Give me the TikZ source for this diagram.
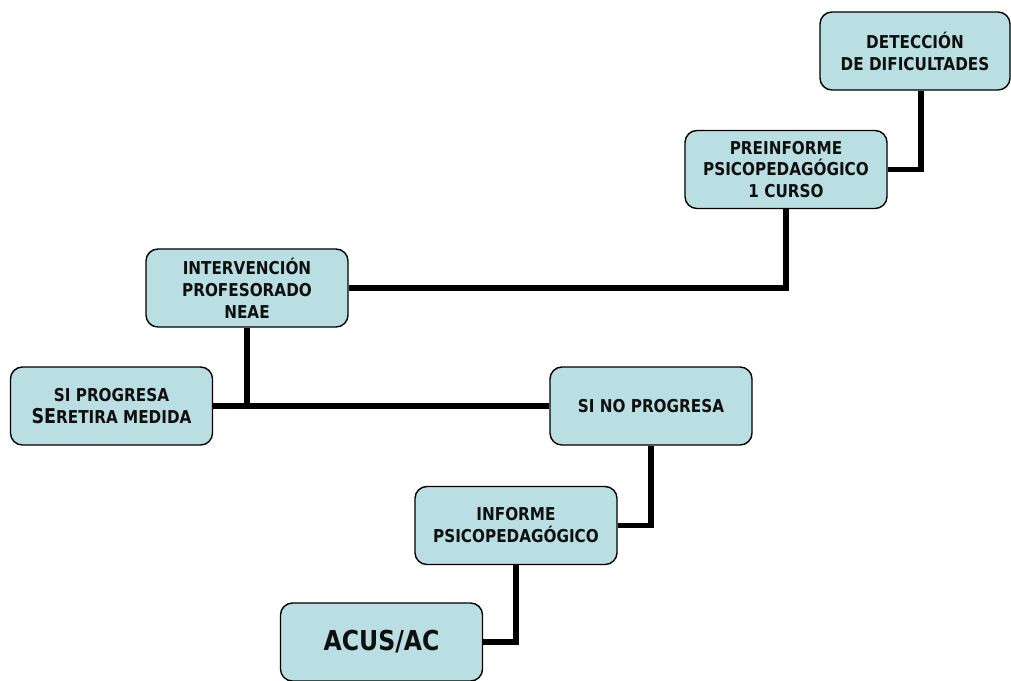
\documentclass[tikz,border=0pt]{standalone}
\usepackage{fontspec}
\setmainfont{DejaVu Sans}[FakeStretch=0.86]
\usepackage{tikz}
\usetikzlibrary{positioning}
\definecolor{boxfill}{RGB}{185,223,226}
\definecolor{boxtext}{RGB}{15,15,15}
\tikzset{
	x=0.025cm, y=-0.025cm,
	paso/.style={draw, line width=1pt, fill=boxfill, rounded corners=0.3cm, text=boxtext,
		minimum width=5.05cm, minimum height=1.95cm, align=center,
		font=\fontsize{12.6}{15.6}\selectfont\bfseries, inner sep=0pt},
	enlace/.style={draw, line width=4pt}
}

\begin{document}
\begin{tikzpicture}
\useasboundingbox (0,0) rectangle (1011,680);
\node[paso, minimum width=4.75cm] (det) at (915,51) {DETECCIÓN\\DE DIFICULTADES};
\node[paso] (pre) at (786,169.5) {PREINFORME\\PSICOPEDAGÓGICO\\1 CURSO};
\node[paso] (inter) at (247,288) {INTERVENCIÓN\\PROFESORADO\\NEAE};
\node[paso] (sip) at (111.5,406) {SI PROGRESA\\{\fontsize{14.5}{15.6}\selectfont SE}RETIRA MEDIDA};
\node[paso] (sinp) at (651,406) {SI NO PROGRESA};
\node[paso, font=\fontsize{19.5}{22}\selectfont\bfseries] (acus) at (381.5,642) {ACUS/AC};
\node[paso] (inf) at (516,525.5) {INFORME\\PSICOPEDAGÓGICO};

\draw[enlace] ([xshift=0.15cm]det.south) |- (pre.east);
\draw[enlace] (pre.south) |- (inter.east);
\draw[enlace] (inter.south) -- (inter.south |- sip.east);
\draw[enlace] (sip.east) -- (sinp.west);
\draw[enlace] (sinp.south) |- (inf.east);
\draw[enlace] (inf.south) |- (acus.east);
\end{tikzpicture}
\end{document}
